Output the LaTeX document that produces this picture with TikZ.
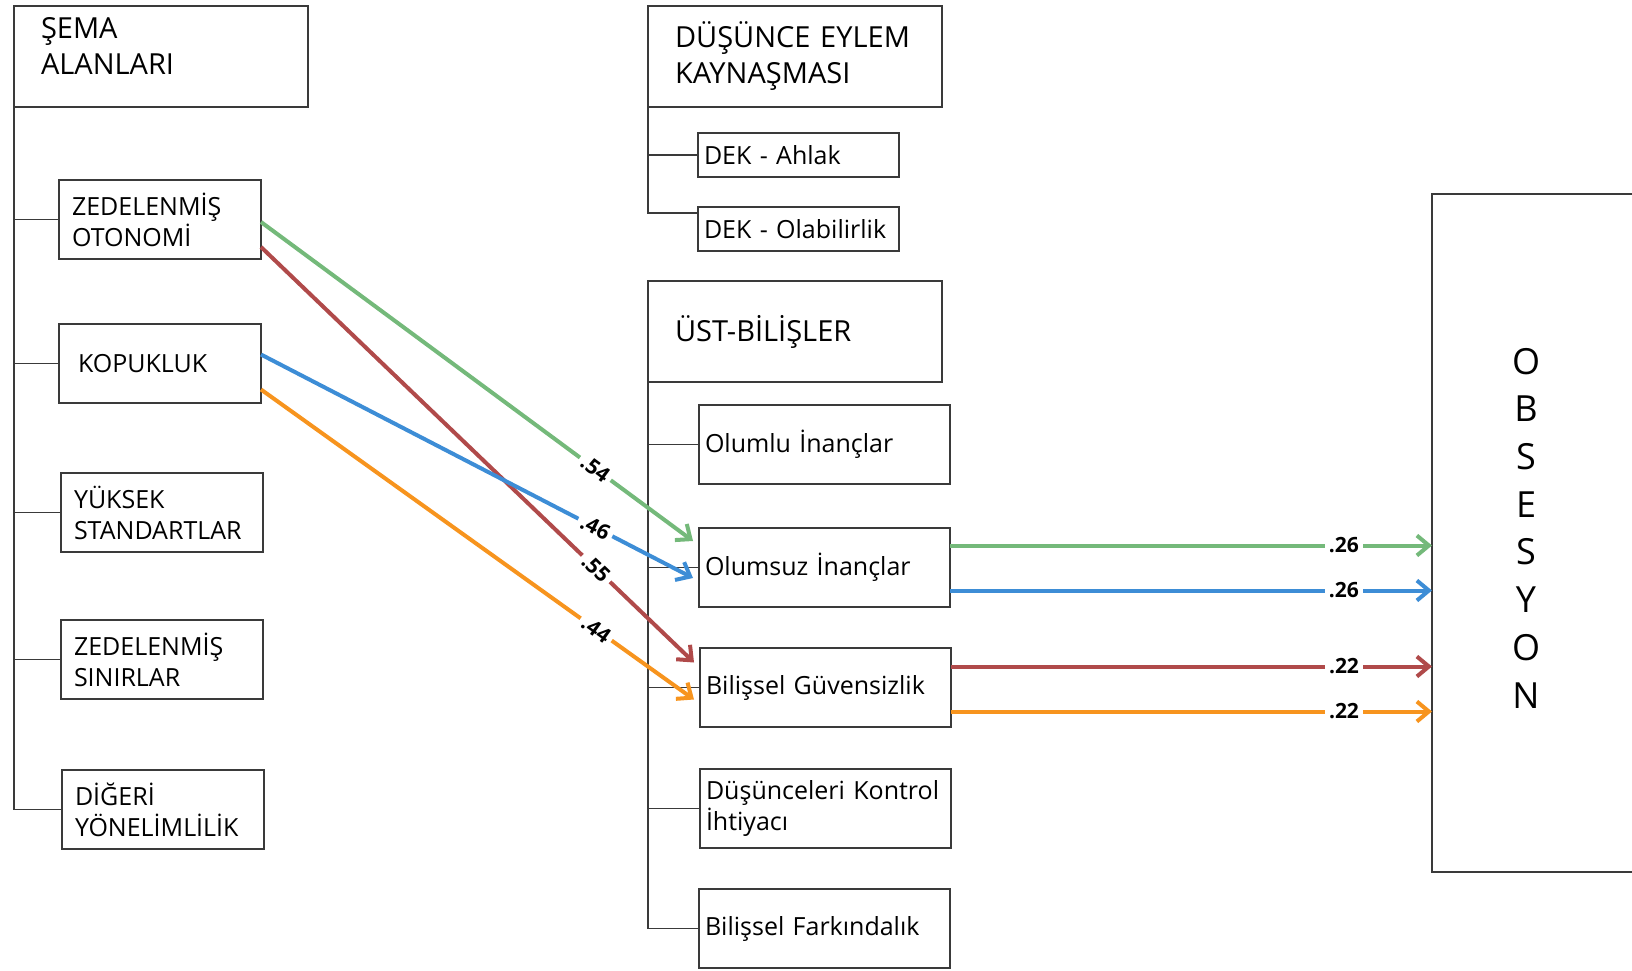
\documentclass[tikz,border=0pt]{standalone}
\usepackage{fontspec}
\setmainfont{Open Sans}
\usepackage{tikz}
\usetikzlibrary{arrows.meta}
\definecolor{cLine}{HTML}{3A3A3A}
\definecolor{cYesil}{HTML}{74B97A}
\definecolor{cKirmizi}{HTML}{B04A4A}
\definecolor{cMavi}{HTML}{3D8DD6}
\definecolor{cTuruncu}{HTML}{F7941E}
\tikzset{
  baslik/.style={draw=cLine, line width=1.3pt, outer sep=0pt, anchor=north west,
                 align=left, inner xsep=27pt, text width=240pt, minimum height=101pt,
                 font=\fontsize{29}{36}\selectfont},
  kutu/.style={draw=cLine, line width=1.3pt, outer sep=0pt, anchor=north west,
               align=left, inner xsep=13pt, text width=176pt, minimum height=79pt,
               font=\fontsize{25}{31}\selectfont},
  altkutu/.style={kutu, inner xsep=6pt, text width=239pt},
  dekkutu/.style={altkutu, text width=189pt, minimum height=44pt},
  agac/.style={draw=cLine, line width=1.4pt},
  yol/.style={-{Straight Barb[length=12pt,width=20pt]}, line width=4pt, draw=#1},
  katsayi/.style={font=\fontsize{21}{22}\selectfont\bfseries, fill=white,
                  inner xsep=4pt, inner ysep=1pt},
}

\begin{document}
\begin{tikzpicture}[x=1pt, y=-1pt]
  \useasboundingbox (0,0) rectangle (1632,971);

  % sema alanlari
  \node[baslik, text depth=56pt] (sema) at (14,6) {ŞEMA\\ALANLARI};
  \node[kutu] (zo) at (59,180) {ZEDELENMİŞ\\OTONOMİ};
  \node[kutu, inner xsep=19pt, text width=164pt] (kop) at (59,324) {KOPUKLUK};
  \node[kutu] (yuk) at (61,473) {YÜKSEK\\STANDARTLAR};
  \node[kutu] (zs) at (61,620) {ZEDELENMİŞ\\SINIRLAR};
  \node[kutu] (dy) at (62,770) {DİĞERİ\\YÖNELİMLİLİK};

  \foreach \n in {zo,kop,yuk,zs,dy}
    \draw[agac] (sema.south west) |- (\n.west);

  % dusunce eylem kaynasmasi
  \node[baslik] (dek) at (648,6) {DÜŞÜNCE EYLEM\\KAYNAŞMASI};
  \node[dekkutu] (ahlak) at (698,133) {DEK - Ahlak};
  \node[dekkutu] (olab) at (698,207) {DEK - Olabilirlik};

  \draw[agac] (dek.south west) |- (ahlak.west);
  \draw[agac] (dek.south west) |- ([yshift=-6pt]olab.north west);

  % ust-bilisler
  \node[baslik] (ust) at (648,281) {ÜST-BİLİŞLER};
  \node[altkutu] (olumlu) at (699,405) {Olumlu İnançlar};
  \node[altkutu] (olumsuz) at (699,528) {Olumsuz İnançlar};
  \node[altkutu] (bg) at (700,648) {Bilişsel Güvensizlik};
  \node[altkutu] (dki) at (700,769) {Düşünceleri Kontrol\\İhtiyacı};
  \node[altkutu] (bf) at (699,889) {Bilişsel Farkındalık};

  \foreach \n in {olumlu,olumsuz,bg,dki,bf}
    \draw[agac] (ust.south west) |- (\n.west);

  % obsesyon
  \node[draw=cLine, line width=1.3pt, outer sep=0pt, anchor=north west,
        minimum width=212pt, minimum height=678pt] (obs) at (1432,194) {};
  \node[font=\fontsize{36}{47.7}\selectfont, align=center]
    (obsyazi) at ([xshift=94pt,yshift=5pt]obs.west) {O\\B\\S\\E\\S\\Y\\O\\N};

  % yollar
  \draw[yol=cYesil] ([yshift=-2.5pt]zo.east) -- node[katsayi, sloped, pos=0.774] {.54}
    ([xshift=-6pt,yshift=26.5pt]olumsuz.west);
  \draw[yol=cKirmizi] ([yshift=-27.5pt]zo.east) -- node[katsayi, sloped, pos=0.774] {.55}
    ([xshift=-6pt,yshift=25pt]bg.west);
  \draw[yol=cMavi] ([yshift=9pt]kop.east) -- node[katsayi, sloped, pos=0.774] {.46}
    ([xshift=-6pt,yshift=-10.5pt]olumsuz.west);
  \draw[yol=cTuruncu] ([yshift=-26pt]kop.east) -- node[katsayi, sloped, pos=0.774] {.44}
    ([xshift=-6pt,yshift=-12pt]bg.west);

  \draw[yol=cYesil] ([yshift=22pt]olumsuz.east) -- node[katsayi, pos=0.817] {.26}
    ([yshift=22pt]olumsuz.east -| obs.west);
  \draw[yol=cMavi] ([yshift=-23pt]olumsuz.east) -- node[katsayi, pos=0.817] {.26}
    ([yshift=-23pt]olumsuz.east -| obs.west);
  \draw[yol=cKirmizi] ([yshift=21pt]bg.east) -- node[katsayi, pos=0.817] {.22}
    ([yshift=21pt]bg.east -| obs.west);
  \draw[yol=cTuruncu] ([yshift=-24pt]bg.east) -- node[katsayi, pos=0.817] {.22}
    ([yshift=-24pt]bg.east -| obs.west);
\end{tikzpicture}
\end{document}
